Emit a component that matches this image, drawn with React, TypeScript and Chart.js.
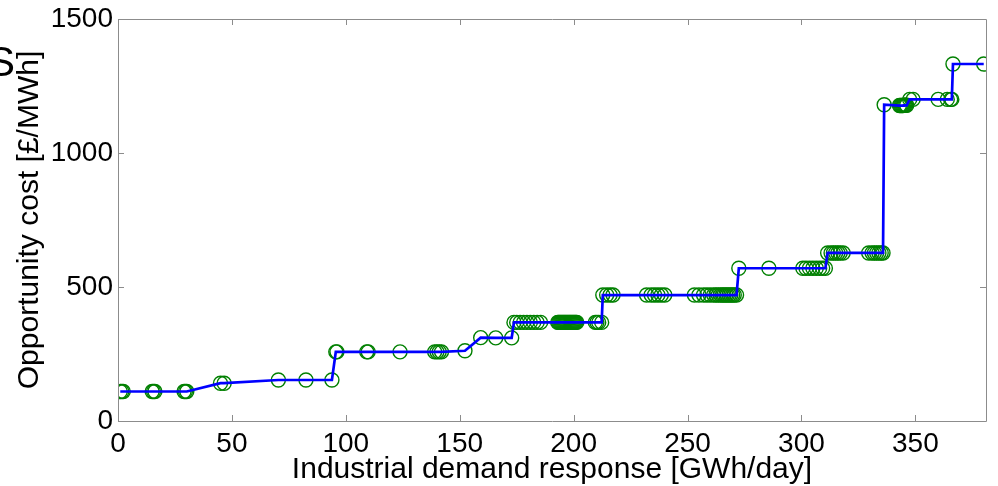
import React, { useEffect, useRef } from "react";
import { Chart, registerables } from "chart.js";

Chart.register(...registerables);

// Industrial demand response [GWh/day]
const demand: number[] = [
  1, 1.7, 2.3, 15, 15.6, 16.2, 29, 29.6, 30.2,
  45, 46.6,
  70.4, 82.5, 93.9,
  95.6, 96.1, 109.2, 109.8, 123.8,
  139, 140, 141, 142,
  152.3,
  159.2, 165.8, 172.8,
  173.8, 175, 176.5, 178, 179.5, 181, 182.5, 184, 185.5,
  193, 193.4, 193.8, 194.2, 194.6, 195, 195.4, 195.8, 196.2, 196.6, 197, 197.4, 197.8,
  198.2, 198.6, 199, 199.4, 199.8, 200.2, 200.6, 201, 201.4,
  209.5, 210.2, 211, 212.3,
  212.8, 214.5, 216, 217.3,
  232, 234, 235.5, 237, 238.5, 240,
  253, 255, 257, 258.5, 260, 261.5, 262.5, 263.5, 264.5, 265.3, 266, 266.8, 267.5, 268.3, 269, 269.8, 270.5, 271.5,
  272.5, 285.7,
  300.6, 302, 303.5, 305, 306.5, 308, 309.3, 310.5,
  311.5, 313, 314, 315, 316, 317, 318.3,
  329.5, 331, 332, 333, 334, 335, 335.8,
  336.3,
  343, 343.4, 343.8, 344.2, 344.6, 345, 345.4, 345.8, 346.2,
  347.5, 349,
  360, 364, 365.5, 366,
  366.5, 380,
];

// Opportunity cost [£/MWh]
const cost: number[] = [
  110, 110, 110, 110, 110, 110, 110, 110, 110,
  141, 141,
  153, 153, 153,
  258, 258, 258, 258, 258,
  258, 258, 258, 258,
  262,
  311, 310, 310,
  368, 368, 368, 368, 368, 368, 368, 368, 368,
  368, 368, 368, 368, 368, 368, 368, 368, 368, 368, 368, 368, 368,
  368, 368, 368, 368, 368, 368, 368, 368, 368,
  368, 368, 368, 368,
  470, 470, 470, 470,
  470, 470, 470, 470, 470, 470,
  470, 470, 470, 470, 470, 470, 470, 470, 470, 470, 470, 470, 470, 470, 470, 470, 470, 470,
  570, 570,
  570, 570, 570, 570, 570, 570, 570, 570,
  627, 627, 627, 627, 627, 627, 627,
  627, 627, 627, 627, 627, 627, 627,
  1180,
  1177, 1177, 1177, 1177, 1177, 1178, 1178, 1178, 1178,
  1200, 1200,
  1200, 1200, 1200, 1200,
  1332, 1332,
];

const xTicks: number[] = [0, 50, 100, 150, 200, 250, 300, 350];
const yTicks: number[] = [0, 500, 1000, 1500];
const xMax = 381;
const yMax = 1500;

const FONT = "'Liberation Sans', Arial, sans-serif";

const boxPlugin = {
  id: "boxTicks",
  afterDatasetsDraw(chart: any) {
    const { ctx, chartArea: a, scales } = chart;
    ctx.save();
    ctx.strokeStyle = "#8c8c8c";
    ctx.lineWidth = 1;
    ctx.beginPath();
    ctx.rect(Math.round(a.left) + 0.5, Math.round(a.top) + 0.5, Math.round(a.right - a.left), Math.round(a.bottom - a.top));
    const len = 6;
    for (const v of xTicks) {
      const px = Math.round(scales.x.getPixelForValue(v)) + 0.5;
      ctx.moveTo(px, a.bottom);
      ctx.lineTo(px, a.bottom - len);
      ctx.moveTo(px, a.top);
      ctx.lineTo(px, a.top + len);
    }
    for (const v of yTicks) {
      const py = Math.round(scales.y.getPixelForValue(v)) + 0.5;
      ctx.moveTo(a.left, py);
      ctx.lineTo(a.left + len, py);
      ctx.moveTo(a.right, py);
      ctx.lineTo(a.right - len, py);
    }
    ctx.stroke();
    ctx.restore();
  },
};

export default function App() {
  const ref = useRef<HTMLCanvasElement | null>(null);

  useEffect(() => {
    document.body.style.margin = "0";
    if (!ref.current) return;
    const pts = demand.map((x, i) => ({ x, y: cost[i] }));
    const chart = new Chart(ref.current, {
      type: "scatter",
      data: {
        datasets: [
          {
            type: "line",
            data: pts,
            borderColor: "#0000ff",
            borderWidth: 2.7,
            pointRadius: 0,
            fill: false,
            tension: 0,
            order: 0,
          } as any,
          {
            type: "scatter",
            data: pts,
            pointStyle: "circle",
            pointRadius: 7,
            pointBorderWidth: 1.4,
            pointBorderColor: "#008000",
            pointBackgroundColor: "rgba(0,0,0,0)",
            order: 1,
          } as any,
        ],
      },
      options: {
        animation: false,
        responsive: false,
        maintainAspectRatio: false,
        layout: { padding: { left: 0, right: 12, top: 19, bottom: 0 } },
        plugins: { legend: { display: false }, tooltip: { enabled: false } },
        scales: {
          x: {
            type: "linear",
            min: 0,
            max: xMax,
            afterBuildTicks: (s: any) => {
              s.ticks = xTicks.map((v) => ({ value: v }));
            },
            afterFit: (s: any) => {
              s.height = 65;
            },
            grid: { display: false, drawTicks: false },
            border: { display: false },
            ticks: {
              color: "#000",
              padding: 9,
              maxRotation: 0,
              autoSkip: false,
              callback: (v: any) => String(v),
              font: { family: FONT, size: 28, lineHeight: 1 },
            },
            title: {
              display: true,
              text: "Industrial demand response [GWh/day]",
              color: "#000",
              padding: { top: 0, bottom: 1 },
              font: { family: FONT, size: 30, lineHeight: 1 },
            },
          },
          y: {
            type: "linear",
            min: 0,
            max: yMax,
            afterBuildTicks: (s: any) => {
              s.ticks = yTicks.map((v) => ({ value: v }));
            },
            afterFit: (s: any) => {
              s.width = 118;
            },
            grid: { display: false, drawTicks: false },
            border: { display: false },
            ticks: {
              color: "#000",
              padding: 5,
              autoSkip: false,
              callback: (v: any) => String(v),
              font: { family: FONT, size: 28, lineHeight: 1 },
            },
            title: {
              display: true,
              text: "Opportunity cost [£/MWh]",
              color: "#000",
              padding: { top: 15, bottom: 0 },
              font: { family: FONT, size: 30, lineHeight: 1 },
            },
          },
        },
      },
      plugins: [boxPlugin],
    });
    return () => chart.destroy();
  }, []);

  return (
    <div style={{ position: "relative", width: 998, height: 486, overflow: "hidden", background: "#fff" }}>
      <canvas ref={ref} width={998} height={486} style={{ display: "block", width: 998, height: 486 }} />
      <span
        style={{
          position: "absolute",
          left: -13,
          top: 41,
          fontFamily: "'Liberation Sans', Arial, sans-serif",
          fontSize: 42,
          lineHeight: "42px",
          color: "#000",
          whiteSpace: "nowrap",
        }}
      >
        S
      </span>
    </div>
  );
}
